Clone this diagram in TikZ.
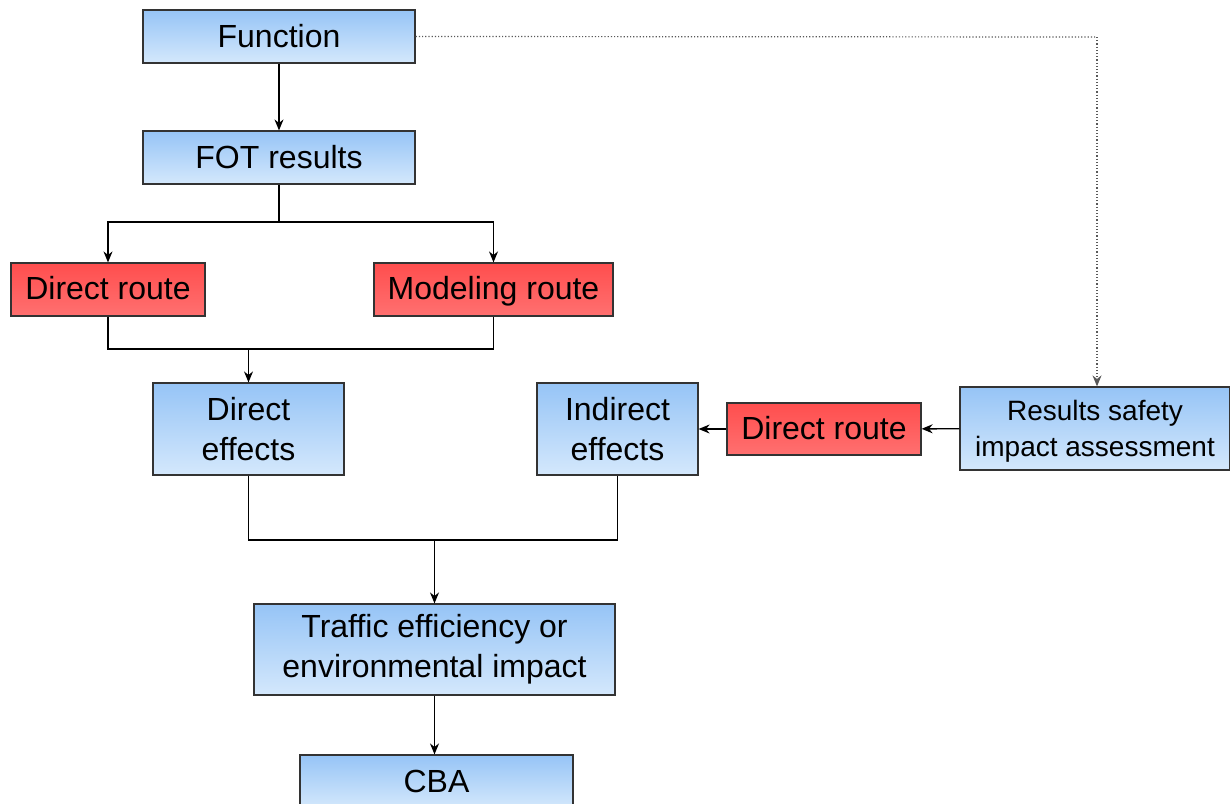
\documentclass[tikz,border=0pt]{standalone}
\usepackage{fontspec}
\setmainfont{Liberation Sans}
\usetikzlibrary{arrows.meta,positioning}
\definecolor{bluetop}{RGB}{150,196,246}
\definecolor{bluebot}{RGB}{212,232,252}
\definecolor{redtop}{RGB}{255,78,78}
\definecolor{redbot}{RGB}{255,112,112}
\tikzset{
  >=Stealth,
  blk/.style={rectangle, draw=black!80, line width=0.6pt, top color=bluetop, bottom color=bluebot,
    inner sep=0pt, align=center, font=\fontsize{16}{20}\selectfont},
  rte/.style={blk, top color=redtop, bottom color=redbot, text height=12pt, text depth=2pt},
  tr/.style={-{Stealth[length=5.5pt,width=4.5pt]}, line width=0.7pt},
  ln/.style={line width=0.7pt},
  dot/.style={densely dotted, gray!70!black, line width=0.6pt}
}
\begin{document}
\begin{tikzpicture}[x=0.5pt, y=-0.5pt]
    \useasboundingbox (0,0) rectangle (1230,803);

    % main column
    \node[blk, minimum width=136pt, minimum height=26.5pt] (fn) at (279,36.5) {Function};
    \node[blk, minimum width=136pt, minimum height=26.5pt] (fot) at (279,157.5) {FOT results};
    \node[rte, minimum width=97pt, minimum height=26.5pt] (dr) at (108,289.5) {Direct route};
    \node[rte, minimum width=119.5pt, minimum height=26.5pt] (mr) at (493.5,289.5) {Modeling route};
    \node[blk, minimum width=95.5pt, minimum height=46pt] (de) at (248.5,429) {Direct\\effects};
    \node[blk, minimum width=80.5pt, minimum height=46pt] (ie) at (617.5,429) {Indirect\\effects};
    \node[blk, minimum width=180.5pt, minimum height=45.5pt] (tei) at (434.5,649.5) {Traffic efficiency or\\environmental impact};
    \node[blk, minimum width=136.5pt, minimum height=26.5pt] (cba) at (436.5,781.5) {CBA};

    % safety branch
    \node[blk, minimum width=135pt, minimum height=41.5pt, font=\fontsize{14}{18}\selectfont] (rsa) at (1095,428.5) {\rule{0pt}{13pt}Results safety\\impact assessment};
    \node[rte, minimum width=97pt, minimum height=26pt] (dr2) at (824,429) {Direct route};

    % junctions
    \coordinate (j1) at (279,222);
    \coordinate (j2) at (248.5,349);
    \coordinate (j3) at (434.5,540);
    \coordinate (k1) at (1097,37);

    \draw[tr] (fn) -- (fot);
    \draw[ln] (fot) -- (j1);
    \draw[tr] (j1) -| (dr);
    \draw[tr] (j1) -| (mr);
    \draw[ln] (dr) |- (j2) -| (mr);
    \draw[tr] (j2) -- (de);
    \draw[ln] (de) |- (j3) -| (ie);
    \draw[tr] (j3) -- (tei);
    \draw[tr] (tei) -- (tei |- cba.north);

    \draw[dot] (fn.east) -- (k1);
    \draw[dot, -{Stealth[length=5.5pt,width=4.5pt]}] (k1) -- (k1 |- rsa.north);
    \draw[tr] (rsa) -- (dr2);
    \draw[tr] (dr2) -- (ie);
\end{tikzpicture}
\end{document}
